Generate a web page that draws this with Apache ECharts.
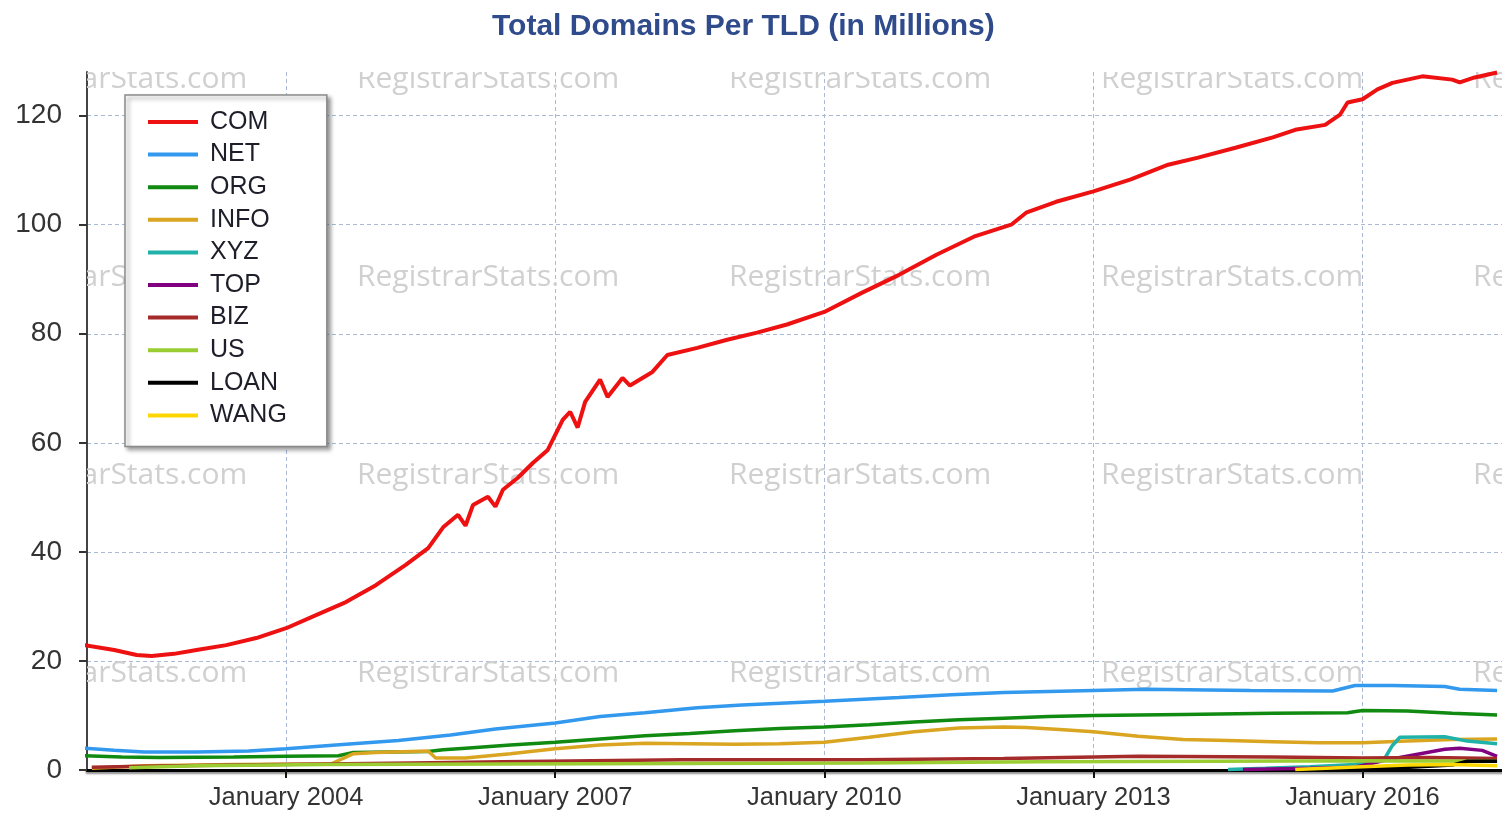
<!DOCTYPE html>
<html>
<head>
<meta charset="utf-8">
<title>Total Domains Per TLD</title>
<script src="https://cdn.jsdelivr.net/npm/echarts@6/dist/echarts.min.js"></script>
<style>
    html, body { margin: 0; padding: 0; background: #fff; }
    #chart { width: 1502px; height: 813px; }
</style>
</head>
<body>
<div id="chart"></div>
<script>
// values in millions
const comDates = ['2001-10','2002-02','2002-05','2002-07','2002-10','2003-01','2003-05','2003-09','2004-01','2004-05',
    '2004-09','2005-01','2005-05','2005-08','2005-10','2005-12','2006-01','2006-02','2006-04','2006-05',
    '2006-06','2006-08','2006-10','2006-12','2007-02','2007-03','2007-04','2007-05','2007-07','2007-08',
    '2007-10','2007-11','2008-02','2008-04','2008-08','2008-12','2009-04','2009-08','2010-01','2010-06',
    '2010-11','2011-04','2011-09','2012-02','2012-04','2012-08','2013-01','2013-06','2013-11','2014-03',
    '2014-08','2015-01','2015-04','2015-08','2015-10','2015-11','2016-01','2016-03','2016-05','2016-09',
    '2017-01','2017-02','2017-04','2017-07'];
const comValues = [22.9,22.0,21.1,20.9,21.3,22.0,22.9,24.2,26.0,28.4,
    30.8,33.9,37.6,40.7,44.5,46.8,44.8,48.6,50.1,48.3,
    51.4,53.6,56.3,58.7,64.2,65.7,62.8,67.5,71.6,68.4,
    71.9,70.5,73.0,76.1,77.4,78.9,80.2,81.7,84.0,87.5,
    90.8,94.5,97.8,100.0,102.2,104.2,106.1,108.3,111.0,112.3,
    114.1,116.0,117.4,118.3,120.2,122.4,123.0,124.8,126.0,127.2,
    126.6,126.1,127.0,127.9];

const netDates = ['2001-10','2002-02','2002-06','2003-01','2003-08','2004-01','2004-09','2005-04','2005-11','2006-05',
    '2007-01','2007-07','2008-01','2008-08','2009-02','2010-01','2010-11','2011-06','2012-01','2013-01',
    '2013-08','2014-10','2015-09','2015-12','2016-05','2016-12','2017-02','2017-07'];
const netValues = [4.0,3.6,3.3,3.3,3.5,3.9,4.7,5.4,6.4,7.5,
    8.6,9.8,10.5,11.4,11.9,12.6,13.3,13.8,14.2,14.6,
    14.8,14.6,14.5,15.5,15.5,15.3,14.8,14.6];

const orgDates = ['2001-10','2002-03','2002-08','2003-06','2004-01','2004-08','2004-10','2005-08','2005-10','2006-01',
    '2006-07','2007-01','2007-07','2008-01','2008-07','2009-01','2009-07','2010-01','2010-07','2011-01',
    '2011-07','2012-01','2012-07','2013-01','2014-01','2015-01','2015-11','2016-01','2016-07','2017-01','2017-07'];
const orgValues = [2.6,2.4,2.3,2.4,2.5,2.6,3.2,3.4,3.7,4.0,
    4.6,5.1,5.7,6.3,6.7,7.2,7.6,7.9,8.3,8.8,
    9.2,9.5,9.8,10.0,10.2,10.4,10.5,10.9,10.8,10.4,10.1];

const infoDates = ['2001-11','2002-06','2003-06','2004-07','2004-10','2005-01','2005-08','2005-09','2006-01','2006-07',
    '2007-01','2007-07','2008-01','2008-07','2009-01','2009-07','2010-01','2010-07','2011-01','2011-07',
    '2012-01','2012-04','2012-09','2013-01','2013-07','2014-01','2014-07','2015-01','2015-07','2016-01',
    '2016-07','2017-01','2017-07'];
const infoValues = [0.3,0.8,1.0,1.1,3.0,3.2,3.5,2.2,2.2,3.0,
    3.9,4.6,4.9,4.8,4.7,4.8,5.1,6.0,7.0,7.7,
    7.9,7.8,7.4,7.0,6.2,5.6,5.4,5.2,5.0,5.0,
    5.3,5.6,5.7];

const xyzDates = ['2014-07','2014-12','2015-06','2015-12','2016-04','2016-05','2016-06','2016-12','2017-03','2017-07'];
const xyzValues = [0.1,0.3,0.6,1.0,2.2,4.5,6.0,6.1,5.3,4.8];

const topDates = ['2014-09','2015-06','2015-12','2016-04','2016-08','2016-12','2017-02','2017-05','2017-07'];
const topValues = [0.1,0.3,0.5,1.8,2.8,3.8,4.0,3.6,2.5];

const bizDates = ['2001-11','2002-06','2003-06','2004-06','2005-06','2006-06','2007-06','2008-06','2010-06','2012-01',
    '2013-07','2015-01','2016-01','2016-10','2017-07'];
const bizValues = [0.5,0.7,0.9,1.1,1.3,1.5,1.7,1.9,1.9,2.1,
    2.5,2.4,2.2,2.3,2.1];

const usDates = ['2002-04','2003-01','2004-06','2006-06','2008-06','2010-06','2012-06','2014-06','2016-01','2017-07'];
const usValues = [0.4,0.8,1.0,1.1,1.2,1.3,1.5,1.6,1.7,1.6];

const loanDates = ['2015-07','2016-06','2017-01','2017-03','2017-07'];
const loanValues = [0.1,0.4,0.9,1.6,1.6];

const wangDates = ['2015-04','2016-01','2016-07','2017-01','2017-07'];
const wangValues = [0.1,0.6,0.9,1.0,0.8];

const xTickYears = [2004, 2007, 2010, 2013, 2016];
const yTicks = [0, 20, 40, 60, 80, 100, 120];

const seriesDefs = [
    {name: 'COM',  color: '#ee1111', dates: comDates,  values: comValues,  width: 4},
    {name: 'NET',  color: '#3399ee', dates: netDates,  values: netValues,  width: 3.5},
    {name: 'ORG',  color: '#108a10', dates: orgDates,  values: orgValues,  width: 3.5},
    {name: 'INFO', color: '#daa520', dates: infoDates, values: infoValues, width: 3.5},
    {name: 'XYZ',  color: '#20b2aa', dates: xyzDates,  values: xyzValues,  width: 3.5},
    {name: 'TOP',  color: '#800080', dates: topDates,  values: topValues,  width: 3.5},
    {name: 'BIZ',  color: '#a52a2a', dates: bizDates,  values: bizValues,  width: 3.5},
    {name: 'US',   color: '#9acd32', dates: usDates,   values: usValues,   width: 3.5},
    {name: 'LOAN', color: '#000000', dates: loanDates, values: loanValues, width: 3.5},
    {name: 'WANG', color: '#ffd700', dates: wangDates, values: wangValues, width: 3.5}
];

// 'YYYY-MM' -> fractional year, so the x axis can be a plain value axis
const toYear = d => {
    let [y, m] = d.split('-').map(Number);
    return y + (m - 1) / 12;
};

let chart = echarts.init(document.getElementById('chart'));

// faint "RegistrarStats.com" stamps behind the lines, clipped to the plot
const watermark = {
    type: 'custom',
    name: 'watermark',
    silent: true,
    z: 1,
    clip: true,
    data: [[2005, 0]],
    renderItem: (params, api) => {
        let cs = params.coordSys;
        let children = [];
        for (let r = 0; r < 4; r++) {
            for (let c = 0; c < 5; c++) {
                children.push({
                    type: 'text',
                    style: {
                        text: 'RegistrarStats.com',
                        x: cs.x - 102 + c * 372,
                        y: cs.y + 7 + r * 198,
                        fill: '#d0d0d0',
                        font: '30px "Open Sans"',
                        verticalAlign: 'middle',
                        align: 'left'
                    }
                });
            }
        }
        return {type: 'group', children: children};
    }
};

let option = {
    animation: false,
    backgroundColor: '#fff',
    title: {
        text: 'Total Domains Per TLD (in Millions)',
        left: 487,
        top: 7,
        textStyle: {
            fontFamily: 'Liberation Sans',
            fontSize: 30,
            fontWeight: 'bold',
            color: '#2f4b8c'
        }
    },
    legend: {
        data: seriesDefs.map(s => s.name),
        orient: 'vertical',
        left: 125,
        top: 95,
        padding: [12, 40, 16, 23],
        itemWidth: 50,
        itemHeight: 4,
        itemGap: 2.6,
        icon: 'rect',
        backgroundColor: '#fff',
        borderColor: '#8a8a8a',
        borderWidth: 1.5,
        shadowColor: 'rgba(0,0,0,0.4)',
        shadowBlur: 4,
        shadowOffsetX: 3,
        shadowOffsetY: 3,
        selectedMode: false,
        textStyle: {
            fontFamily: 'Liberation Sans',
            fontSize: 25,
            lineHeight: 30,
            color: '#1e1e2a',
            padding: [0, 0, 0, 7]
        }
    },
    grid: {
        left: 87,
        right: 0,
        top: 72,
        bottom: 43,
        containLabel: false
    },
    xAxis: {
        type: 'value',
        min: 2001.78,
        max: 2017.555,
        axisLine: {
            show: true,
            onZero: false,
            lineStyle: {
                color: '#000',
                width: 3,
                shadowColor: 'rgba(0,0,0,0.45)',
                shadowBlur: 2,
                shadowOffsetY: 2
            }
        },
        axisTick: {
            show: true,
            length: 8,
            customValues: xTickYears,
            lineStyle: {color: '#111', width: 2}
        },
        axisLabel: {
            customValues: xTickYears,
            formatter: v => 'January ' + v,
            fontFamily: 'Liberation Sans',
            fontSize: 25.5,
            color: '#333',
            margin: 15
        },
        splitLine: {
            show: true,
            lineStyle: {color: '#a9b9d6', type: [4, 3], width: 1}
        }
    },
    yAxis: {
        type: 'value',
        min: 0,
        max: 128,
        axisLine: {
            show: true,
            lineStyle: {color: '#444', width: 2}
        },
        axisTick: {
            show: true,
            length: 8,
            customValues: yTicks,
            lineStyle: {color: '#333', width: 2}
        },
        axisLabel: {
            customValues: yTicks,
            fontFamily: 'Liberation Sans',
            fontSize: 28,
            color: '#333',
            margin: 25
        },
        splitLine: {
            show: true,
            lineStyle: {color: '#a9b9d6', type: [4, 3], width: 1}
        }
    },
    series: [watermark].concat(seriesDefs.map(s => ({
        name: s.name,
        type: 'line',
        showSymbol: false,
        symbol: 'none',
        z: 2,
        color: s.color,
        lineStyle: {color: s.color, width: s.width},
        data: s.dates.map((d, i) => [toYear(d), s.values[i]])
    })))
};

chart.setOption(option);
</script>
</body>
</html>
